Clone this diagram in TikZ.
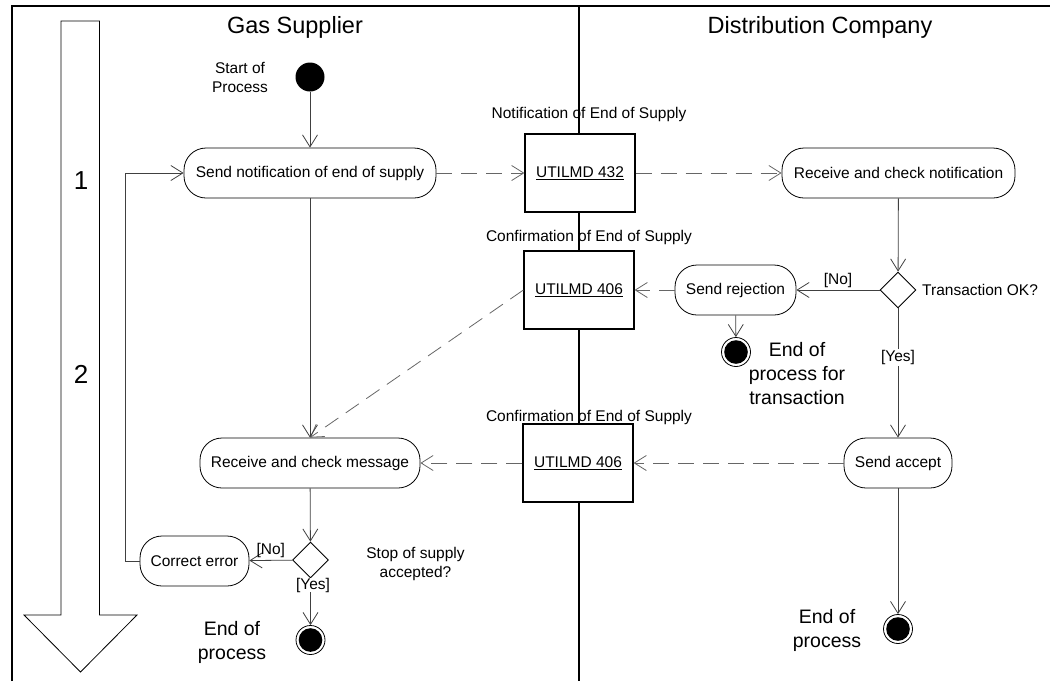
\documentclass[tikz,border=0pt]{standalone}
\usepackage{fontspec}
\setmainfont{Liberation Sans}
\usetikzlibrary{arrows.meta,shapes.geometric}
\newcommand\fsm{\fontsize{15.5}{19}\selectfont}
\newcommand\fbg{\fontsize{19.5}{24}\selectfont}
\newcommand\fhd{\fontsize{23.5}{28}\selectfont}
\newcommand\fnum{\fontsize{26}{30}\selectfont}
\begin{document}
\begin{tikzpicture}[x=1pt,y=-1pt,
  act/.style={draw, rounded corners=22pt, minimum height=50pt, inner sep=0pt, fill=white, font=\fsm, line width=0.8pt},
  msg/.style={draw, fill=white, minimum width=110pt, minimum height=78pt, inner sep=0pt, line width=1.2pt, font=\fsm},
  flow/.style={draw=black!75, line width=0.8pt, -{Straight Barb[length=12pt,width=15pt]}},
  dflow/.style={flow, draw=black!60, dash pattern=on 16pt off 9pt},
  startdot/.style={circle, fill=black, minimum size=29pt, inner sep=0pt},
  enddot/.style={circle, draw, fill=white, line width=0.8pt, minimum size=29pt, inner sep=0pt,
     path picture={\fill[black] (path picture bounding box.center) circle (11.8pt);}},
  dec/.style={diamond, draw, fill=white, minimum width=36pt, minimum height=36pt, inner sep=0pt, line width=0.9pt},
  txt/.style={font=\fsm, inner sep=1pt},
  btxt/.style={font=\fbg, align=center, inner sep=0pt},
  guard/.style={font=\fsm, inner sep=1pt, fill=white}]
\useasboundingbox (0,0) rectangle (1050,681);
% frame and lanes
\draw[line width=1.2pt] (12,681) -- (12,6) -- (1050,6);
\draw[line width=1.6pt] (579,6) -- (579,681);
\node[font=\fhd] (lane1) at (295,27) {Gas Supplier};
\node[font=\fhd] (lane2) at (820,27) {Distribution Company};
% big phase arrow
\draw[line width=0.8pt, fill=white] (61,21) -- (99.5,21) -- (99.5,615) -- (137,615) -- (80.5,672) -- (24,615) -- (61,615) -- cycle;
\node[font=\fnum] (ph1) at (81,181) {1};
\node[font=\fnum] (ph2) at (81,374) {2};
% nodes
\node[startdot] (start) at (310,77) {};
\node[font=\fsm, align=center, inner sep=0pt] (startlbl) at (240,77) {Start of\\Process};
\node[act, minimum width=252pt] (sn) at (310,173) {Send notification of end of supply};
\node[msg] (u432) at (580,173) {\underline{UTILMD 432}};
\node[txt] (l432) at (589,114) {Notification of End of Supply};
\node[act, minimum width=233pt] (rcn) at (898.5,173) {Receive and check notification};
\node[dec] (d1) at (898,290) {};
\node[txt, anchor=west] (d1lbl) at (921,290) {Transaction OK?};
\node[act, minimum width=121pt] (sr) at (735.5,290) {Send rejection};
\node[msg] (u406a) at (579,290) {\underline{UTILMD 406}};
\node[txt] (l406a) at (589,237) {Confirmation of End of Supply};
\node[enddot] (e1) at (736,352) {};
\node[btxt] (e1lbl) at (797,374) {End of\\process for\\transaction};
\node[act, minimum width=108pt] (sa) at (898,463) {Send accept};
\node[enddot] (e2) at (898,629) {};
\node[btxt] (e2lbl) at (827,630) {End of\\process};
\node[msg] (u406b) at (578,463) {\underline{UTILMD 406}};
\node[txt] (l406b) at (589,417) {Confirmation of End of Supply};
\node[act, minimum width=220pt] (rcm) at (310,463) {Receive and check message};
\node[dec] (d2) at (310.5,560) {};
\node[font=\fsm, align=center, inner sep=0pt] (d2lbl) at (415.5,564) {Stop of supply\\accepted?};
\node[act, minimum width=109pt] (ce) at (194.5,561) {Correct error};
\node[enddot] (e3) at (310.5,640) {};
\node[btxt] (e3lbl) at (232,642) {End of\\process};
% connectors
\draw[flow] (start) -- (sn);
\draw[dflow] (sn) -- (u432);
\draw[dflow] (u432) -- (rcn);
\draw[flow] (rcn) -- (d1);
\draw[flow] (d1) -- node[txt, above, pos=0.5, yshift=1pt] (no1) {[No]} (sr);
\draw[flow] (sr) -- (e1);
\draw[dflow] (sr) -- (u406a);
\draw[flow] (d1) -- (sa) node[guard, pos=0.38] (yes1) {[Yes]};
\draw[flow] (sa) -- (e2);
\draw[dflow] (sa) -- (u406b);
\draw[dflow] (u406b) -- (rcm);
\draw[dflow] (u406a.west) -- (rcm.north);
\draw[flow] (sn) -- (rcm);
\draw[flow] (rcm) -- (d2);
\draw[flow] (d2) -- node[txt, above, yshift=1pt] (no2) {[No]} (ce);
\draw[flow] (d2) -- (e3);
\node[guard, inner sep=0pt] (yes2) at (313,585) {[Yes]};
\draw[flow] (ce.west) -- ++(-14,0) |- (sn.west);
\end{tikzpicture}
\end{document}
